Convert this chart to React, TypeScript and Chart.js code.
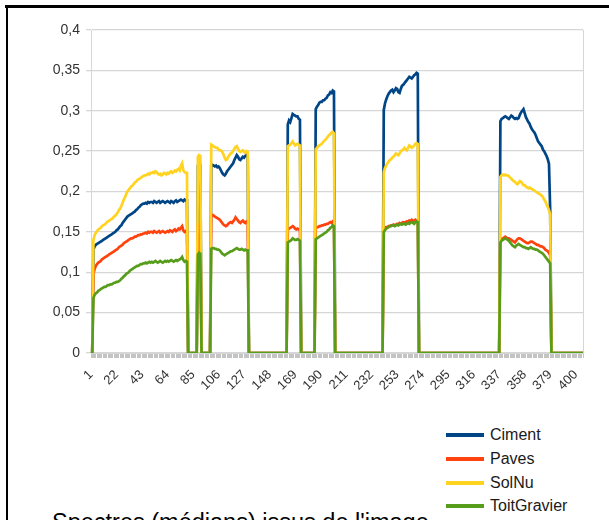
import React, { useEffect, useRef } from 'react';
import { Chart, registerables } from 'chart.js';

Chart.register(...registerables);

// ---------- DATA ----------
const N_CATEGORIES = 406;
const CATEGORIES: string[] = Array.from({ length: N_CATEGORIES }, (_, i) => String(i + 1));
const TICK_LABELS = ['1', '22', '43', '64', '85', '106', '127', '148', '169', '190', '211', '232', '253', '274', '295', '316', '337', '358', '379', '400'];
const SERIES_NAMES = ['Ciment', 'Paves', 'SolNu', 'ToitGravier'];
const SERIES_COLORS = ['#004586', '#ff420e', '#ffd320', '#579d1c'];

// first category index (0-based) of each non-zero band; all other values are 0
const SEGMENT_STARTS = [2, 88, 99, 162, 185, 241, 337];

const CIMENT_SEGMENTS = [
  [0.128, 0.132, 0.134, 0.135, 0.136, 0.137, 0.138, 0.139, 0.140, 0.141,
    0.142, 0.143, 0.144, 0.145, 0.146, 0.147, 0.148, 0.149, 0.150, 0.152,
    0.153, 0.155, 0.157, 0.158, 0.161, 0.163, 0.165, 0.167, 0.169, 0.170,
    0.171, 0.172, 0.173, 0.174, 0.175, 0.177, 0.178, 0.180, 0.181, 0.183,
    0.184, 0.185, 0.185, 0.186, 0.185, 0.187, 0.186, 0.187, 0.187, 0.186,
    0.188, 0.187, 0.186, 0.187, 0.188, 0.186, 0.187, 0.188, 0.187, 0.186,
    0.187, 0.188, 0.187, 0.186, 0.188, 0.187, 0.186, 0.188, 0.189, 0.187,
    0.188, 0.189, 0.190, 0.189, 0.188, 0.190, 0.189, 0.189],
  [0.232, 0.235, 0.233],
  [0.232, 0.233, 0.232, 0.231, 0.232, 0.230, 0.231, 0.229, 0.226, 0.223,
    0.221, 0.220, 0.222, 0.225, 0.227, 0.229, 0.231, 0.233, 0.235, 0.239,
    0.242, 0.245, 0.243, 0.240, 0.239, 0.241, 0.243, 0.242, 0.244, 0.246, 0.245],
  [0.283, 0.288, 0.286, 0.291, 0.296, 0.295, 0.294, 0.293, 0.293, 0.290, 0.289],
  [0.302, 0.305, 0.307, 0.310, 0.311, 0.311, 0.313, 0.313, 0.315, 0.316, 0.319, 0.320, 0.323, 0.322, 0.325, 0.324],
  [0.301, 0.309, 0.314, 0.318, 0.321, 0.323, 0.325, 0.326, 0.323, 0.325,
    0.328, 0.327, 0.323, 0.322, 0.327, 0.331, 0.332, 0.334, 0.336, 0.338,
    0.340, 0.342, 0.341, 0.340, 0.342, 0.344, 0.345, 0.347, 0.346],
  [0.287, 0.290, 0.291, 0.292, 0.293, 0.292, 0.291, 0.290, 0.292, 0.294,
    0.293, 0.291, 0.290, 0.291, 0.290, 0.291, 0.295, 0.298, 0.300, 0.302,
    0.297, 0.292, 0.289, 0.286, 0.284, 0.280, 0.277, 0.275, 0.273, 0.270,
    0.266, 0.262, 0.260, 0.258, 0.256, 0.252, 0.250, 0.247, 0.244, 0.240,
    0.234, 0.176],
];

const PAVES_SEGMENTS = [
  [0.098, 0.104, 0.108, 0.110, 0.112, 0.113, 0.114, 0.116, 0.117, 0.118,
    0.119, 0.120, 0.121, 0.122, 0.123, 0.124, 0.125, 0.126, 0.127, 0.128,
    0.129, 0.131, 0.132, 0.133, 0.134, 0.136, 0.137, 0.138, 0.139, 0.140,
    0.141, 0.142, 0.142, 0.143, 0.144, 0.144, 0.145, 0.146, 0.146, 0.147,
    0.147, 0.148, 0.148, 0.149, 0.148, 0.150, 0.149, 0.150, 0.150, 0.149,
    0.151, 0.150, 0.149, 0.150, 0.151, 0.149, 0.150, 0.151, 0.150, 0.149,
    0.150, 0.151, 0.150, 0.152, 0.151, 0.150, 0.152, 0.153, 0.151, 0.152,
    0.154, 0.153, 0.155, 0.157, 0.152, 0.150, 0.151, 0.150],
  [0.158, 0.160, 0.159],
  [0.170, 0.171, 0.170, 0.169, 0.168, 0.167, 0.166, 0.165, 0.163, 0.161,
    0.159, 0.158, 0.157, 0.158, 0.160, 0.161, 0.162, 0.161, 0.163, 0.165,
    0.168, 0.166, 0.164, 0.162, 0.161, 0.163, 0.164, 0.162, 0.161, 0.163, 0.162],
  [0.153, 0.154, 0.155, 0.156, 0.157, 0.156, 0.154, 0.153, 0.154, 0.153, 0.152],
  [0.155, 0.156, 0.156, 0.157, 0.157, 0.158, 0.158, 0.159, 0.159, 0.160, 0.160, 0.161, 0.162, 0.161, 0.163, 0.162],
  [0.153, 0.155, 0.156, 0.156, 0.157, 0.157, 0.158, 0.158, 0.159, 0.158,
    0.159, 0.160, 0.159, 0.161, 0.160, 0.161, 0.162, 0.161, 0.162, 0.163,
    0.162, 0.164, 0.163, 0.165, 0.164, 0.163, 0.165, 0.164, 0.164],
  [0.139, 0.141, 0.142, 0.143, 0.144, 0.143, 0.142, 0.142, 0.141, 0.140,
    0.139, 0.138, 0.137, 0.139, 0.141, 0.142, 0.142, 0.141, 0.140, 0.139,
    0.138, 0.137, 0.136, 0.136, 0.137, 0.138, 0.138, 0.137, 0.136, 0.135,
    0.134, 0.134, 0.133, 0.132, 0.132, 0.131, 0.130, 0.128, 0.127, 0.126,
    0.124, 0.121],
];

const SOLNU_SEGMENTS = [
  [0.140, 0.146, 0.149, 0.151, 0.153, 0.154, 0.155, 0.157, 0.158, 0.159,
    0.160, 0.162, 0.163, 0.164, 0.165, 0.166, 0.167, 0.169, 0.170, 0.172,
    0.174, 0.177, 0.179, 0.182, 0.186, 0.190, 0.193, 0.197, 0.200, 0.202,
    0.204, 0.206, 0.207, 0.209, 0.211, 0.212, 0.214, 0.215, 0.216, 0.217,
    0.218, 0.219, 0.220, 0.220, 0.221, 0.222, 0.221, 0.223, 0.223, 0.224,
    0.223, 0.225, 0.224, 0.222, 0.221, 0.222, 0.220, 0.221, 0.223, 0.222,
    0.221, 0.223, 0.222, 0.224, 0.225, 0.223, 0.224, 0.226, 0.225, 0.227,
    0.228, 0.226, 0.232, 0.235, 0.226, 0.224, 0.223, 0.223],
  [0.243, 0.245, 0.244],
  [0.258, 0.257, 0.256, 0.255, 0.254, 0.254, 0.252, 0.251, 0.251, 0.249,
    0.246, 0.242, 0.239, 0.240, 0.243, 0.245, 0.247, 0.248, 0.250, 0.253,
    0.255, 0.256, 0.253, 0.250, 0.249, 0.250, 0.251, 0.249, 0.248, 0.250, 0.249],
  [0.256, 0.257, 0.258, 0.260, 0.262, 0.259, 0.257, 0.258, 0.259, 0.258, 0.257],
  [0.252, 0.254, 0.256, 0.257, 0.258, 0.259, 0.261, 0.263, 0.264, 0.266, 0.268, 0.270, 0.271, 0.273, 0.274, 0.272],
  [0.224, 0.229, 0.232, 0.235, 0.237, 0.239, 0.240, 0.242, 0.243, 0.245,
    0.247, 0.246, 0.245, 0.247, 0.250, 0.251, 0.252, 0.254, 0.252, 0.251,
    0.254, 0.257, 0.256, 0.254, 0.255, 0.257, 0.259, 0.260, 0.259],
  [0.218, 0.220, 0.221, 0.220, 0.221, 0.220, 0.220, 0.219, 0.217, 0.216,
    0.214, 0.213, 0.212, 0.210, 0.209, 0.211, 0.213, 0.212, 0.210, 0.208,
    0.208, 0.206, 0.205, 0.204, 0.205, 0.204, 0.203, 0.202, 0.201, 0.200,
    0.199, 0.198, 0.197, 0.196, 0.195, 0.193, 0.190, 0.188, 0.184, 0.181,
    0.177, 0.172],
];

const TOITGRAVIER_SEGMENTS = [
  [0.068, 0.072, 0.074, 0.075, 0.077, 0.078, 0.079, 0.080, 0.081, 0.082,
    0.082, 0.083, 0.084, 0.084, 0.085, 0.085, 0.086, 0.087, 0.087, 0.088,
    0.088, 0.089, 0.090, 0.092, 0.093, 0.095, 0.096, 0.098, 0.099, 0.100,
    0.102, 0.103, 0.104, 0.105, 0.106, 0.107, 0.108, 0.108, 0.109, 0.110,
    0.110, 0.111, 0.111, 0.112, 0.111, 0.112, 0.113, 0.112, 0.113, 0.112,
    0.113, 0.114, 0.113, 0.112, 0.113, 0.114, 0.113, 0.112, 0.113, 0.114,
    0.113, 0.114, 0.113, 0.114, 0.115, 0.114, 0.113, 0.114, 0.115, 0.114,
    0.115, 0.116, 0.117, 0.119, 0.115, 0.113, 0.114, 0.113],
  [0.122, 0.124, 0.123],
  [0.129, 0.130, 0.130, 0.129, 0.129, 0.128, 0.128, 0.127, 0.125, 0.123,
    0.122, 0.121, 0.122, 0.123, 0.124, 0.125, 0.126, 0.126, 0.127, 0.128,
    0.129, 0.130, 0.129, 0.128, 0.128, 0.129, 0.128, 0.127, 0.128, 0.127, 0.127],
  [0.137, 0.138, 0.139, 0.140, 0.142, 0.141, 0.140, 0.140, 0.141, 0.140, 0.139],
  [0.141, 0.142, 0.143, 0.144, 0.145, 0.146, 0.147, 0.148, 0.149, 0.150, 0.152, 0.153, 0.155, 0.156, 0.158, 0.157],
  [0.150, 0.152, 0.154, 0.155, 0.156, 0.157, 0.157, 0.158, 0.158, 0.157,
    0.158, 0.159, 0.158, 0.159, 0.160, 0.159, 0.160, 0.160, 0.159, 0.160,
    0.161, 0.160, 0.161, 0.162, 0.161, 0.160, 0.162, 0.163, 0.162],
  [0.137, 0.139, 0.140, 0.141, 0.142, 0.141, 0.140, 0.139, 0.137, 0.135,
    0.133, 0.132, 0.131, 0.133, 0.134, 0.135, 0.134, 0.133, 0.132, 0.131,
    0.131, 0.130, 0.130, 0.129, 0.130, 0.131, 0.130, 0.129, 0.129, 0.128,
    0.128, 0.127, 0.126, 0.125, 0.124, 0.123, 0.121, 0.119, 0.117, 0.115,
    0.113, 0.111],
];

const CAPTION = "Spectres (médians) issus de l'image";

// ---------- helpers ----------
function buildSeries(segments: number[][]): number[] {
  const out: number[] = new Array(N_CATEGORIES).fill(0);
  segments.forEach((seg, k) => {
    seg.forEach((v, j) => {
      out[SEGMENT_STARTS[k] + j] = v;
    });
  });
  return out;
}

const FONT = "'Liberation Sans', Arial, sans-serif";
const GRID = '#d6d6d6';

export default function App() {
  const canvasRef = useRef<HTMLCanvasElement | null>(null);

  useEffect(() => {
    if (!canvasRef.current) return;
    const allSegments = [CIMENT_SEGMENTS, PAVES_SEGMENTS, SOLNU_SEGMENTS, TOITGRAVIER_SEGMENTS];
    const tickSet = new Set(TICK_LABELS);
    const chart = new Chart(canvasRef.current, {
      type: 'line',
      data: {
        labels: CATEGORIES,
        datasets: SERIES_NAMES.map((name, k) => ({
          label: name,
          data: buildSeries(allSegments[k]),
          borderColor: SERIES_COLORS[k],
          backgroundColor: SERIES_COLORS[k],
          borderWidth: 2.7,
          pointRadius: 0,
          tension: 0,
          fill: false,
          order: SERIES_NAMES.length - k,
        })),
      },
      options: {
        animation: false,
        responsive: false,
        devicePixelRatio: 1,
        layout: { padding: { top: 30, left: 0, right: 26, bottom: 0 } },
        plugins: {
          legend: { display: false },
          tooltip: { enabled: false },
        },
        scales: {
          x: {
            type: 'category',
            afterFit: (scale: any) => {
              scale.height = 67;
            },
            grid: {
              drawOnChartArea: true,
              color: (ctx: any) => (ctx.index === N_CATEGORIES - 1 ? GRID : 'rgba(0,0,0,0)'),
              tickColor: '#c4c4c4',
              tickLength: 5,
              lineWidth: 1,
            },
            border: { display: true, color: GRID },
            ticks: {
              autoSkip: false,
              minRotation: 45,
              maxRotation: 45,
              padding: 9,
              color: '#333333',
              font: { family: FONT, size: 13 },
              callback: function (this: any, value: any) {
                const lab = this.getLabelForValue(value);
                return tickSet.has(lab) ? lab : '';
              },
            },
          },
          y: {
            min: 0,
            max: 0.4,
            afterFit: (scale: any) => {
              scale.width = 91;
            },
            grid: {
              color: GRID,
              lineWidth: 1.3,
              tickLength: 5,
            },
            border: { display: true, color: GRID },
            ticks: {
              stepSize: 0.05,
              padding: 6,
              color: '#333333',
              font: { family: FONT, size: 14 },
              callback: (v: any) => String(Math.round(Number(v) * 100) / 100).replace('.', ','),
            },
          },
        },
      },
    });
    return () => chart.destroy();
  }, []);

  const legendTop = 435;
  const legendStep = 23.8;

  return (
    <div
      style={{
        position: 'absolute',
        left: 0,
        top: 0,
        width: 609,
        height: 520,
        overflow: 'hidden',
        background: '#ffffff',
        fontFamily: FONT,
      }}
    >
      <canvas ref={canvasRef} width={609} height={420} style={{ position: 'absolute', left: 0, top: 0 }} />
      {/* frame lines */}
      <div style={{ position: 'absolute', left: 5, top: 5, width: 604, height: 3, background: '#000' }} />
      <div style={{ position: 'absolute', left: 6, top: 5, width: 2, height: 515, background: '#000' }} />
      {/* legend */}
      {SERIES_NAMES.map((name, k) => {
        const cy = legendTop + k * legendStep;
        return (
          <React.Fragment key={name}>
            <div
              style={{
                position: 'absolute',
                left: 446,
                top: cy - 2,
                width: 38,
                height: 4,
                background: SERIES_COLORS[k],
              }}
            />
            <div
              style={{
                position: 'absolute',
                left: 490,
                top: cy - 10,
                height: 20,
                lineHeight: '20px',
                fontSize: 16,
                color: '#1a1a1a',
                whiteSpace: 'nowrap',
              }}
            >
              {name}
            </div>
          </React.Fragment>
        );
      })}
      {/* caption (cut at the bottom edge) */}
      <div
        style={{
          position: 'absolute',
          left: 52,
          top: 510.5,
          fontSize: 23.5,
          lineHeight: 1,
          color: '#000',
          whiteSpace: 'nowrap',
        }}
      >
        {CAPTION}
      </div>
    </div>
  );
}
